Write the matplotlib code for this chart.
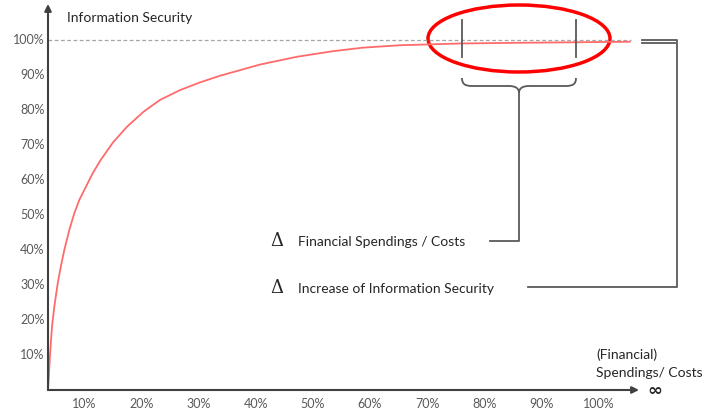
import matplotlib.pyplot as plt
from matplotlib.patches import Ellipse, PathPatch
from matplotlib.path import Path

# curve (x: spendings in %, y: information security in %)
spend = [0, 0.12, 0.35, 0.70, 1.10, 1.70, 2.27, 2.85, 3.72, 4.60, 5.47, 6.64, 7.81, 9.2,
         11.35, 13.8, 16.7, 19.6, 23.1, 26.6, 30.1, 33.6, 37.1, 43.5, 49.8, 55.0, 61.5,
         72.0, 82.0, 92.0, 101.7]
security = [0, 3.0, 10.0, 18.1, 23.8, 30.5, 35.5, 40.0, 45.7, 50.5, 54.3, 58.1, 61.9, 65.7,
            70.7, 75.2, 79.5, 82.9, 85.7, 87.9, 89.8, 91.4, 93.0, 95.2, 96.8, 97.8, 98.5,
            99.0, 99.2, 99.35, 99.5]

y_ticks = [10, 20, 30, 40, 50, 60, 70, 80, 90, 100]
y_labels = ['10%', '20%', '30%', '40%', '50%', '60%', '70%', '80%', '90%', '100%']
x_ticks = [10, 20, 30, 40, 50, 60, 70, 80, 90, 100]
x_labels = ['10%', '20%', '30%', '40%', '50%', '60%', '70%', '80%', '90%', '100%']

W, H = 706, 411
X0, Y0 = 48, 390      # origin in image pixels
SX, SY = 5.72, 3.5    # pixels per percent


def P(px, py):
    # image pixel -> data coords
    return ((px - X0) / SX, (Y0 - py) / SY)


plt.rcParams['font.family'] = ['Lato', 'DejaVu Sans']

fig = plt.figure(figsize=(W / 100, H / 100), dpi=100)
ax = fig.add_axes([0, 0, 1, 1])
ax.set_xlim(P(0, 0)[0], P(W, 0)[0])
ax.set_ylim(P(0, H)[1], P(0, 0)[1])
ax.axis('off')

axis_col = '#404040'
grey = '#595959'

# 100% reference line
ax.plot([0, P(631, 0)[0]], [100, 100], color='#A6A6A6', lw=0.9, ls=(0, (3, 2)))

# the curve
ax.plot(spend, security, color='#FF6B6B', lw=1.3, solid_joinstyle='round')

# axes with arrows
ax.annotate('', xy=P(48, 4), xytext=P(48, 390),
            arrowprops=dict(arrowstyle='-|>', color=axis_col, lw=1.5, mutation_scale=10,
                            shrinkA=0, shrinkB=0))
ax.annotate('', xy=P(639, 390), xytext=P(48, 390),
            arrowprops=dict(arrowstyle='-|>', color=axis_col, lw=1.5, mutation_scale=10,
                            shrinkA=0, shrinkB=0))

# tick labels
for v, lab in zip(y_ticks, y_labels):
    ax.text(-0.6, v, lab, ha='right', va='center', fontsize=9, color=grey)
for v, lab in zip(x_ticks, x_labels):
    ax.text(v - 3.7, P(0, 404)[1], lab, ha='center', va='center', fontsize=9, color=grey)

# axis titles
ax.text(*P(67, 18), 'Information Security', ha='left', va='center', fontsize=10, color='#262626')
ax.text(*P(596, 355), '(Financial)', ha='left', va='center', fontsize=10, color='#262626')
ax.text(*P(596, 373), 'Spendings/ Costs', ha='left', va='center', fontsize=10, color='#262626')
ax.text(*P(655, 391), '∞', ha='center', va='center', fontsize=13, fontweight='bold',
        color='#262626', family='DejaVu Sans')

# red ellipse highlight
ax.add_patch(Ellipse(P(519, 38.5), 182 / SX, 67 / SY, fill=False, ec='#FF0000', lw=2.5))

# markers inside the ellipse
for px in (462, 576):
    ax.plot(*zip(P(px, 20), P(px, 57)), color=grey, lw=1.3)

# curly brace below
brace_px = [(462, 78), (462, 84), (465, 86), (472, 86), (509, 86),
            (515, 86), (519, 88), (519, 93), (519, 88), (523, 86), (529, 86),
            (566, 86), (573, 86), (576, 84), (576, 78)]
codes = [Path.MOVETO, Path.CURVE4, Path.CURVE4, Path.CURVE4, Path.LINETO,
         Path.CURVE4, Path.CURVE4, Path.CURVE4, Path.CURVE4, Path.CURVE4, Path.CURVE4,
         Path.LINETO, Path.CURVE4, Path.CURVE4, Path.CURVE4]
ax.add_patch(PathPatch(Path([P(*p) for p in brace_px], codes), fill=False, ec=grey, lw=1.3))
ax.plot(*zip(P(519, 93), P(519, 241), P(490, 241)), color=grey, lw=1.3)

# bracket on the right
ax.plot(*zip(P(642, 40), P(677, 40), P(677, 287), P(528, 287)), color=grey, lw=1.3)
ax.plot(*zip(P(642, 43), P(675, 43)), color=grey, lw=1.3)

# delta legend
ax.text(*P(277, 241), 'Δ', ha='center', va='center', fontsize=13, color='#262626',
        family='DejaVu Serif')
ax.text(*P(298, 242), 'Financial Spendings / Costs', ha='left', va='center', fontsize=10,
        color='#262626')
ax.text(*P(277, 288), 'Δ', ha='center', va='center', fontsize=13, color='#262626',
        family='DejaVu Serif')
ax.text(*P(298, 289), 'Increase of Information Security', ha='left', va='center', fontsize=10,
        color='#262626')

fig.savefig('out.png', dpi=100)
